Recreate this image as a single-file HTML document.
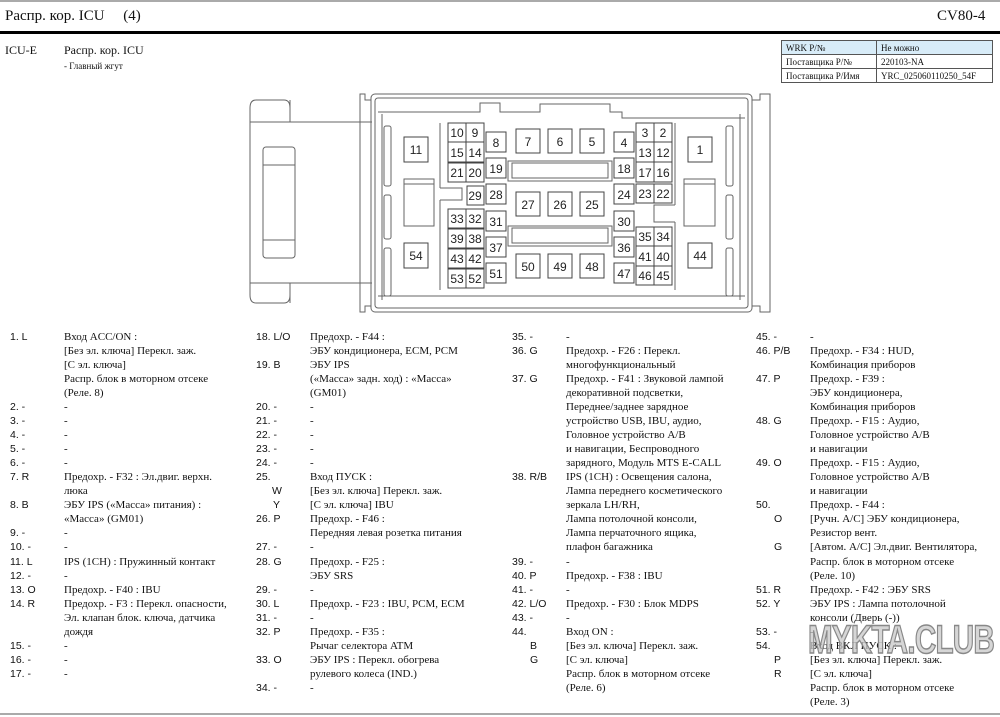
<!DOCTYPE html>
<html><head><meta charset="utf-8"><style>
body{margin:0;width:1000px;height:717px;background:#fff;position:relative;overflow:hidden;font-family:"Liberation Serif",serif;color:#111}
.a{position:absolute;white-space:nowrap}
.col{position:absolute;top:330px;width:240px;font-size:11px;line-height:14.04px;white-space:nowrap}
.col div{position:relative;height:14.04px}
.col span{white-space:nowrap}
.col .p{position:absolute;left:0;font-family:"Liberation Sans",sans-serif;font-size:10.5px}
.col .s{position:absolute;font-family:"Liberation Sans",sans-serif;font-size:10.5px}
.col .d{position:absolute;left:54px}
table{border-collapse:collapse;font-size:9px}
td{border:1px solid #555;padding:0 4px;height:13px;line-height:12px}
</style></head><body>
<div class="a" style="left:0;top:0;width:1000px;height:2px;background:#aaa"></div>
<div class="a" style="left:5px;top:8px;font-size:15px">Распр. кор. ICU&nbsp;&nbsp;&nbsp;&nbsp; (4)</div>
<div class="a" style="left:937px;top:8px;font-size:15px">CV80-4</div>
<div class="a" style="left:0;top:31px;width:1000px;height:3px;background:#000"></div>
<div class="a" style="left:5px;top:43px;font-size:12px">ICU-E</div>
<div class="a" style="left:64px;top:43px;font-size:12px">Распр. кор. ICU</div>
<div class="a" style="left:64px;top:61px;font-size:9px">- Главный жгут</div>
<table class="a" style="left:781px;top:40px;width:212px">
<tr style="background:#d8ecf8"><td style="width:86px">WRK P/№</td><td>Не можно</td></tr>
<tr><td>Поставщика P/№</td><td>220103-NA</td></tr>
<tr><td>Поставщика P/Имя</td><td>YRC_025060110250_54F</td></tr>
</table>

<svg class="a" style="left:0;top:0" width="1000" height="330" viewBox="0 0 1000 330">
<g fill="none" stroke="#666" stroke-width="1">
<path d="M372 122 H290 V108 Q290 100 284 100 H256 Q250 100 250 108 V295 Q250 303 256 303 H284 Q290 303 290 295 V283 H372"/>
<path d="M250 122 H372 M250 283 H372"/>
<path d="M290 122 V100 M290 283 V303" />
<rect x="263" y="147" width="32" height="111" rx="3"/>
<path d="M263 165 H295 M263 240 H295"/>
<rect x="371" y="94" width="381" height="218" rx="4"/>
<rect x="375" y="98" width="373" height="210" rx="3"/>
<path d="M378 112 H480 V103 H500 V112 H540 V104 H610 V112 H622 V118 H745 M378 296 H745"/>
<path d="M382 114 V300 M740 114 V300"/>
<rect x="726" y="126" width="7" height="60" rx="2"/><rect x="726" y="195" width="7" height="44" rx="2"/><rect x="726" y="248" width="7" height="48" rx="2"/>
<rect x="384" y="126" width="7" height="60" rx="2"/><rect x="384" y="195" width="7" height="44" rx="2"/><rect x="384" y="248" width="7" height="48" rx="2"/>
<path d="M752 100 H760 V94 H770 V312 H760 V306 H752"/>
<path d="M371 100 H365 V94 H360 V312 H365 V306 H371"/>
<path d="M440 123 V188 M440 200 V290 M675 123 V205 M675 222 V290"/>
<rect x="508" y="161" width="104" height="20"/>
<rect x="512" y="163" width="96" height="15"/>
<rect x="508" y="226" width="104" height="20"/>
<rect x="512" y="228" width="96" height="15"/>
<rect x="404" y="179" width="30" height="47"/><path d="M404 184 H434"/>
<rect x="684" y="179" width="31" height="47"/><path d="M684 184 H715"/>
<path d="M440 188 H462 V200 H440"/><path d="M675 205 H654 V222 H675"/>
</g>
<g fill="#fff" stroke="#444" stroke-width="1">
<rect x="448" y="123" width="18" height="19"/><rect x="466" y="123" width="18" height="19"/>
<rect x="448" y="142" width="18" height="20"/><rect x="466" y="142" width="18" height="20"/>
<rect x="448" y="163" width="18" height="19"/><rect x="466" y="163" width="18" height="19"/>
<rect x="467" y="186" width="17" height="19"/>
<rect x="448" y="209" width="18" height="19"/><rect x="466" y="209" width="18" height="19"/>
<rect x="448" y="229" width="18" height="19"/><rect x="466" y="229" width="18" height="19"/>
<rect x="448" y="249" width="18" height="19"/><rect x="466" y="249" width="18" height="19"/>
<rect x="448" y="269" width="18" height="19"/><rect x="466" y="269" width="18" height="19"/>
<rect x="486" y="132" width="20" height="20"/><rect x="486" y="158" width="20" height="20"/><rect x="486" y="184" width="20" height="20"/>
<rect x="486" y="211" width="20" height="20"/><rect x="486" y="237" width="20" height="20"/><rect x="486" y="263" width="20" height="20"/>
<rect x="516" y="129" width="24" height="24"/><rect x="548" y="129" width="24" height="24"/><rect x="580" y="129" width="24" height="24"/>
<rect x="516" y="192" width="24" height="24"/><rect x="548" y="192" width="24" height="24"/><rect x="580" y="192" width="24" height="24"/>
<rect x="516" y="254" width="24" height="24"/><rect x="548" y="254" width="24" height="24"/><rect x="580" y="254" width="24" height="24"/>
<rect x="614" y="132" width="20" height="20"/><rect x="614" y="158" width="20" height="20"/><rect x="614" y="184" width="20" height="20"/>
<rect x="614" y="211" width="20" height="20"/><rect x="614" y="237" width="20" height="20"/><rect x="614" y="263" width="20" height="20"/>
<rect x="636" y="123" width="18" height="19"/><rect x="654" y="123" width="18" height="19"/>
<rect x="636" y="142" width="18" height="20"/><rect x="654" y="142" width="18" height="20"/>
<rect x="636" y="162" width="18" height="20"/><rect x="654" y="162" width="18" height="20"/>
<rect x="636" y="184" width="18" height="19"/><rect x="654" y="184" width="18" height="19"/>
<rect x="636" y="227" width="18" height="19"/><rect x="654" y="227" width="18" height="19"/>
<rect x="636" y="246" width="18" height="20"/><rect x="654" y="246" width="18" height="20"/>
<rect x="636" y="266" width="18" height="19"/><rect x="654" y="266" width="18" height="19"/>
<rect x="404" y="137" width="24" height="25"/><rect x="688" y="137" width="24" height="25"/>
<rect x="404" y="243" width="24" height="25"/><rect x="688" y="243" width="24" height="25"/>
</g>
<g font-family="Liberation Sans,sans-serif" font-size="12" fill="#222" text-anchor="middle">
<text x="457" y="137">10</text><text x="475" y="137">9</text>
<text x="457" y="157">15</text><text x="475" y="157">14</text>
<text x="457" y="177">21</text><text x="475" y="177">20</text>
<text x="475" y="200">29</text>
<text x="457" y="223">33</text><text x="475" y="223">32</text>
<text x="457" y="243">39</text><text x="475" y="243">38</text>
<text x="457" y="263">43</text><text x="475" y="263">42</text>
<text x="457" y="283">53</text><text x="475" y="283">52</text>
<text x="496" y="147">8</text><text x="496" y="173">19</text><text x="496" y="199">28</text>
<text x="496" y="226">31</text><text x="496" y="252">37</text><text x="496" y="278">51</text>
<text x="528" y="146">7</text><text x="560" y="146">6</text><text x="592" y="146">5</text>
<text x="528" y="209">27</text><text x="560" y="209">26</text><text x="592" y="209">25</text>
<text x="528" y="271">50</text><text x="560" y="271">49</text><text x="592" y="271">48</text>
<text x="624" y="147">4</text><text x="624" y="173">18</text><text x="624" y="199">24</text>
<text x="624" y="226">30</text><text x="624" y="252">36</text><text x="624" y="278">47</text>
<text x="645" y="137">3</text><text x="663" y="137">2</text>
<text x="645" y="157">13</text><text x="663" y="157">12</text>
<text x="645" y="177">17</text><text x="663" y="177">16</text>
<text x="645" y="198">23</text><text x="663" y="198">22</text>
<text x="645" y="241">35</text><text x="663" y="241">34</text>
<text x="645" y="261">41</text><text x="663" y="261">40</text>
<text x="645" y="280">46</text><text x="663" y="280">45</text>
<text x="416" y="154">11</text><text x="700" y="154">1</text>
<text x="416" y="260">54</text><text x="700" y="260">44</text>
</g>
</svg>

<div class="col" style="left:10px">
<div><span class="p">1. L</span><span class="d">Вход ACC/ON :</span></div>
<div><span class="d">[Без эл. ключа] Перекл. заж.</span></div>
<div><span class="d">[С эл. ключа]</span></div>
<div><span class="d">Распр. блок в моторном отсеке</span></div>
<div><span class="d">(Реле. 8)</span></div>
<div><span class="p">2. -</span><span class="d">-</span></div>
<div><span class="p">3. -</span><span class="d">-</span></div>
<div><span class="p">4. -</span><span class="d">-</span></div>
<div><span class="p">5. -</span><span class="d">-</span></div>
<div><span class="p">6. -</span><span class="d">-</span></div>
<div><span class="p">7. R</span><span class="d">Предохр. - F32 : Эл.двиг. верхн.</span></div>
<div><span class="d">люка</span></div>
<div><span class="p">8. B</span><span class="d">ЭБУ IPS («Масса» питания) :</span></div>
<div><span class="d">«Масса» (GM01)</span></div>
<div><span class="p">9. -</span><span class="d">-</span></div>
<div><span class="p">10. -</span><span class="d">-</span></div>
<div><span class="p">11. L</span><span class="d">IPS (1CH) : Пружинный контакт</span></div>
<div><span class="p">12. -</span><span class="d">-</span></div>
<div><span class="p">13. O</span><span class="d">Предохр. - F40 : IBU</span></div>
<div><span class="p">14. R</span><span class="d">Предохр. - F3 : Перекл. опасности,</span></div>
<div><span class="d">Эл. клапан блок. ключа, датчика</span></div>
<div><span class="d">дождя</span></div>
<div><span class="p">15. -</span><span class="d">-</span></div>
<div><span class="p">16. -</span><span class="d">-</span></div>
<div><span class="p">17. -</span><span class="d">-</span></div>
</div>

<div class="col" style="left:256px">
<div><span class="p">18. L/O</span><span class="d">Предохр. - F44 :</span></div>
<div><span class="d">ЭБУ кондиционера, ECM, PCM</span></div>
<div><span class="p">19. B</span><span class="d">ЭБУ IPS</span></div>
<div><span class="d">(«Масса» задн. ход) : «Масса»</span></div>
<div><span class="d">(GM01)</span></div>
<div><span class="p">20. -</span><span class="d">-</span></div>
<div><span class="p">21. -</span><span class="d">-</span></div>
<div><span class="p">22. -</span><span class="d">-</span></div>
<div><span class="p">23. -</span><span class="d">-</span></div>
<div><span class="p">24. -</span><span class="d">-</span></div>
<div><span class="p">25.</span><span class="d">Вход ПУСК :</span></div>
<div><span class="s" style="left:16px">W</span><span class="d">[Без эл. ключа] Перекл. заж.</span></div>
<div><span class="s" style="left:17px">Y</span><span class="d">[С эл. ключа] IBU</span></div>
<div><span class="p">26. P</span><span class="d">Предохр. - F46 :</span></div>
<div><span class="d">Передняя левая розетка питания</span></div>
<div><span class="p">27. -</span><span class="d">-</span></div>
<div><span class="p">28. G</span><span class="d">Предохр. - F25 :</span></div>
<div><span class="d">ЭБУ SRS</span></div>
<div><span class="p">29. -</span><span class="d">-</span></div>
<div><span class="p">30. L</span><span class="d">Предохр. - F23 : IBU, PCM, ECM</span></div>
<div><span class="p">31. -</span><span class="d">-</span></div>
<div><span class="p">32. P</span><span class="d">Предохр. - F35 :</span></div>
<div><span class="d">Рычаг селектора ATM</span></div>
<div><span class="p">33. O</span><span class="d">ЭБУ IPS : Перекл. обогрева</span></div>
<div><span class="d">рулевого колеса (IND.)</span></div>
<div><span class="p">34. -</span><span class="d">-</span></div>
</div>

<div class="col" style="left:512px">
<div><span class="p">35. -</span><span class="d">-</span></div>
<div><span class="p">36. G</span><span class="d">Предохр. - F26 : Перекл.</span></div>
<div><span class="d">многофункциональный</span></div>
<div><span class="p">37. G</span><span class="d">Предохр. - F41 : Звуковой лампой</span></div>
<div><span class="d">декоративной подсветки,</span></div>
<div><span class="d">Переднее/заднее зарядное</span></div>
<div><span class="d">устройство USB, IBU, аудио,</span></div>
<div><span class="d">Головное устройство A/B</span></div>
<div><span class="d">и навигации, Беспроводного</span></div>
<div><span class="d">зарядного, Модуль MTS E-CALL</span></div>
<div><span class="p">38. R/B</span><span class="d">IPS (1CH) : Освещения салона,</span></div>
<div><span class="d">Лампа переднего косметического</span></div>
<div><span class="d">зеркала LH/RH,</span></div>
<div><span class="d">Лампа потолочной консоли,</span></div>
<div><span class="d">Лампа перчаточного ящика,</span></div>
<div><span class="d">плафон багажника</span></div>
<div><span class="p">39. -</span><span class="d">-</span></div>
<div><span class="p">40. P</span><span class="d">Предохр. - F38 : IBU</span></div>
<div><span class="p">41. -</span><span class="d">-</span></div>
<div><span class="p">42. L/O</span><span class="d">Предохр. - F30 : Блок MDPS</span></div>
<div><span class="p">43. -</span><span class="d">-</span></div>
<div><span class="p">44.</span><span class="d">Вход ON :</span></div>
<div><span class="s" style="left:18px">B</span><span class="d">[Без эл. ключа] Перекл. заж.</span></div>
<div><span class="s" style="left:18px">G</span><span class="d">[С эл. ключа]</span></div>
<div><span class="d">Распр. блок в моторном отсеке</span></div>
<div><span class="d">(Реле. 6)</span></div>
</div>

<div class="col" style="left:756px">
<div><span class="p">45. -</span><span class="d">-</span></div>
<div><span class="p">46. P/B</span><span class="d">Предохр. - F34 : HUD,</span></div>
<div><span class="d">Комбинация приборов</span></div>
<div><span class="p">47. P</span><span class="d">Предохр. - F39 :</span></div>
<div><span class="d">ЭБУ кондиционера,</span></div>
<div><span class="d">Комбинация приборов</span></div>
<div><span class="p">48. G</span><span class="d">Предохр. - F15 : Аудио,</span></div>
<div><span class="d">Головное устройство A/B</span></div>
<div><span class="d">и навигации</span></div>
<div><span class="p">49. O</span><span class="d">Предохр. - F15 : Аудио,</span></div>
<div><span class="d">Головное устройство A/B</span></div>
<div><span class="d">и навигации</span></div>
<div><span class="p">50.</span><span class="d">Предохр. - F44 :</span></div>
<div><span class="s" style="left:18px">O</span><span class="d">[Ручн. A/C] ЭБУ кондиционера,</span></div>
<div><span class="d">Резистор вент.</span></div>
<div><span class="s" style="left:18px">G</span><span class="d">[Автом. A/C] Эл.двиг. Вентилятора,</span></div>
<div><span class="d">Распр. блок в моторном отсеке</span></div>
<div><span class="d">(Реле. 10)</span></div>
<div><span class="p">51. R</span><span class="d">Предохр. - F42 : ЭБУ SRS</span></div>
<div><span class="p">52. Y</span><span class="d">ЭБУ IPS : Лампа потолочной</span></div>
<div><span class="d">консоли (Дверь (-))</span></div>
<div><span class="p">53. -</span><span class="d">-</span></div>
<div><span class="p">54.</span><span class="d">Вход ВКЛ ПУСК :</span></div>
<div><span class="s" style="left:18px">P</span><span class="d">[Без эл. ключа] Перекл. заж.</span></div>
<div><span class="s" style="left:18px">R</span><span class="d">[С эл. ключа]</span></div>
<div><span class="d">Распр. блок в моторном отсеке</span></div>
<div><span class="d">(Реле. 3)</span></div>
</div>

<div class="a" style="left:808px;top:618px;font-family:'Liberation Sans',sans-serif;font-weight:bold;font-size:40px;letter-spacing:-1px;color:rgba(200,200,200,0.75);-webkit-text-stroke:1.5px #888;transform:scaleX(0.74);transform-origin:0 0">MYKTA.CLUB</div>
<div class="a" style="left:0;top:713px;width:1000px;height:2px;background:#aaa"></div>
</body></html>
